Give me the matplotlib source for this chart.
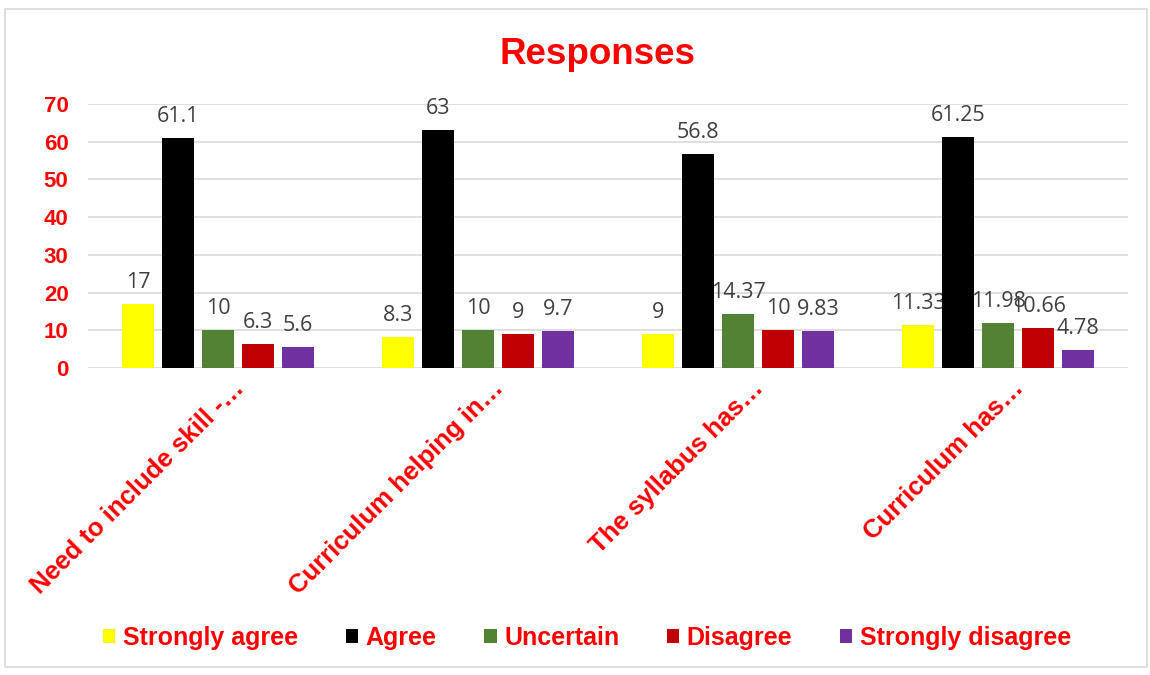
import matplotlib.pyplot as plt
import matplotlib.transforms as mtransforms
from matplotlib.patches import Patch, Rectangle
import numpy as np

categories = ['Need to include skill -…', 'Curriculum helping in…',
              'The syllabus has…', 'Curriculum has…']
series = ['Strongly agree', 'Agree', 'Uncertain', 'Disagree', 'Strongly disagree']
strongly_agree = [17, 8.3, 9, 11.33]
agree = [61.1, 63, 56.8, 61.25]
uncertain = [10, 10, 14.37, 11.98]
disagree = [6.3, 9, 10, 10.66]
strongly_disagree = [5.6, 9.7, 9.83, 4.78]
values = [strongly_agree, agree, uncertain, disagree, strongly_disagree]
colors = ['#FFFF00', '#000000', '#548235', '#C00000', '#7030A0']
yticks = [0, 10, 20, 30, 40, 50, 60, 70]

red = '#FF0000'
fig = plt.figure(figsize=(11.5, 6.75), dpi=100)
ax = fig.add_axes([0.0765, 0.4548, 0.9045, 0.391])

# chart border
fig.patches.append(Rectangle((5 / 1150, 8 / 675), 1142 / 1150, 658 / 675,
                             transform=fig.transFigure, fill=False,
                             edgecolor='#d9d9d9', linewidth=1.2))

x = np.arange(len(categories))
step = 0.154
width = 0.122
for i, (name, vals, c) in enumerate(zip(series, values, colors)):
    bars = ax.bar(x + (i - 2) * step, vals, width, color=c, label=name, zorder=3)
    ax.bar_label(bars, labels=[f'{v:g}' for v in vals], padding=8,
                 fontsize=15.5, color='#404040', family='Open Sans')

ax.set_xlim(-0.5, len(categories) - 0.5)
ax.set_ylim(0, 70)
ax.set_yticks(yticks)
ax.grid(axis='y', color='#d9d9d9', linewidth=1.2, zorder=0)
for s in ax.spines.values():
    s.set_visible(False)
ax.tick_params(length=0)
ax.tick_params(axis='y', pad=14)
for lab in ax.get_yticklabels():
    lab.set_fontsize(16)
    lab.set_fontweight('bold')
    lab.set_color(red)
    lab.set_family('Liberation Sans')

ax.set_xticks(x)
ax.set_xticklabels(categories, rotation=45, ha='right', va='center',
                   rotation_mode='anchor', fontsize=18.5, fontweight='bold',
                   color=red, family='Liberation Sans')
ax.tick_params(axis='x', pad=12)
# labels sit a bit right of the group centre, like in the original
for lab in ax.get_xticklabels():
    lab.set_transform(lab.get_transform() +
                      mtransforms.ScaledTranslation(0.22, 0, fig.dpi_scale_trans))

fig.text(598 / 1150, 1 - 54 / 675, 'Responses', ha='center', va='center',
         fontsize=26.5, fontweight='bold', color=red, family='Liberation Sans')

handles = [Patch(facecolor=c, label=n) for n, c in zip(series, colors)]
leg = fig.legend(handles=handles, loc='center', bbox_to_anchor=(587 / 1150, 1 - 638 / 675),
                 ncol=5, frameon=False, handlelength=0.5, handleheight=0.5,
                 handletextpad=0.3, columnspacing=1.9,
                 prop={'family': 'Liberation Sans', 'weight': 'bold', 'size': 18})
for t in leg.get_texts():
    t.set_color(red)

plt.savefig('out.png', dpi=100)
